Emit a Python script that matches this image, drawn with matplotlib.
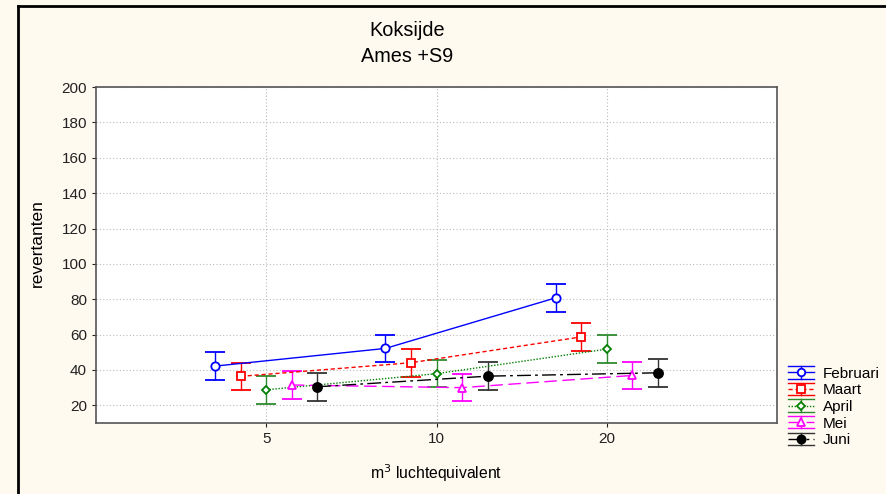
import matplotlib
matplotlib.use("Agg")
import matplotlib.pyplot as plt
from matplotlib.lines import Line2D
from matplotlib.legend_handler import HandlerBase

plt.rcParams['font.family'] = ['Liberation Sans', 'DejaVu Sans']

# data
doses = ["5", "10", "20"]
months = ["Februari", "Maart", "April", "Mei", "Juni"]
februari = [42.2, 52.2, 80.8]
maart = [36.4, 44.1, 58.7]
april = [28.8, 37.9, 51.8]
mei = [31.5, 30.0, 36.9]
juni = [30.5, 36.5, 38.4]
err = [7.8, 7.8, 7.8]

series = [februari, maart, april, mei, juni]
offsets = [-0.3, -0.15, 0.0, 0.15, 0.3]
colors = ["#0000FF", "#FF0000", "#008000", "#FF00FF", "#000000"]
ecolors = ["#0000FF", "#FF0000", "#2E8B2E", "#FF00FF", "#333333"]
markers = ["o", "s", "D", "^", "o"]
msizes = [6, 6, 4.5, 6, 6.5]
facecols = ["white", "white", "white", "white", "black"]
styles = ["-", (0, (3, 2)), (0, (1, 1.2)), (0, (9, 4)), (0, (10, 3, 2, 3))]


class ErrKey:
    def __init__(self, i):
        self.i = i


class ErrKeyHandler(HandlerBase):
    def create_artists(self, legend, orig_handle, xdescent, ydescent,
                       width, height, fontsize, trans):
        i = orig_handle.i
        x0, x1 = -xdescent, -xdescent + width
        xc = (x0 + x1) / 2
        yc = height / 2 - ydescent
        d = 4.5
        arts = [
            Line2D([x0, x1], [yc, yc], color=colors[i], linestyle=styles[i], linewidth=1.0),
            Line2D([x0, x1], [yc + d, yc + d], color=ecolors[i], linewidth=1.0),
            Line2D([x0, x1], [yc - d, yc - d], color=ecolors[i], linewidth=1.0),
            Line2D([xc, xc], [yc - d, yc + d], color=ecolors[i], linewidth=1.0),
            Line2D([xc], [yc], marker=markers[i], markersize=msizes[i] * 0.9,
                   markerfacecolor=facecols[i], markeredgecolor=colors[i],
                   markeredgewidth=1.3, linestyle="none"),
        ]
        for a in arts:
            a.set_transform(trans)
        return arts


bg = "#FFFAF0"
fig = plt.figure(figsize=(8.86, 4.94), dpi=100, facecolor=bg)
ax = fig.add_axes([0.1084, 0.1437, 0.7686, 0.680])

for i, vals in enumerate(series):
    xs = [j + 1 + offsets[i] for j in range(len(doses))]
    ax.errorbar(xs, vals, yerr=err, color=colors[i], ecolor=ecolors[i],
                elinewidth=1.0, capsize=7.5, capthick=1.0, linestyle=styles[i],
                linewidth=1.0, marker=markers[i], markersize=msizes[i],
                markerfacecolor=facecols[i], markeredgecolor=colors[i],
                markeredgewidth=1.3, zorder=3)

ax.set_xlim(0, 4)
ax.set_ylim(10, 200)
ax.set_xticks([1, 2, 3])
ax.set_xticklabels(doses)
ax.set_yticks(range(20, 201, 20))
ax.grid(True, linestyle=(0, (1, 2)), color="#BBBBBB", linewidth=0.8)
ax.set_axisbelow(True)
for s in ax.spines.values():
    s.set_color("#555555")
    s.set_linewidth(1.2)
ax.tick_params(direction="out", length=3, labelsize=11, colors="#222222")

fig.text(0.042, 0.507, "revertanten", rotation=90, ha="center", va="center", fontsize=12.5)
fig.text(0.492, 0.042, "m$^3$ luchtequivalent", ha="center", va="center", fontsize=11.3)
fig.text(0.46, 0.938, "Koksijde", ha="center", va="center", fontsize=14.3)
fig.text(0.46, 0.885, "Ames +S9", ha="center", va="center", fontsize=14.3)

keys = [ErrKey(i) for i in range(len(months))]
fig.legend(keys, months, handler_map={ErrKey: ErrKeyHandler()},
           loc="upper left", bbox_to_anchor=(0.882, 0.27), frameon=False,
           fontsize=11, handlelength=1.7, handletextpad=0.6,
           labelspacing=0.17, borderaxespad=0)

# outer frame (left and top edges visible)
fig.add_artist(Line2D([0.0203, 0.0203], [0.0, 0.988], color="black", linewidth=2))
fig.add_artist(Line2D([0.0203, 1.0], [0.988, 0.988], color="black", linewidth=2))

fig.savefig("out.png", dpi=100, facecolor=bg)
